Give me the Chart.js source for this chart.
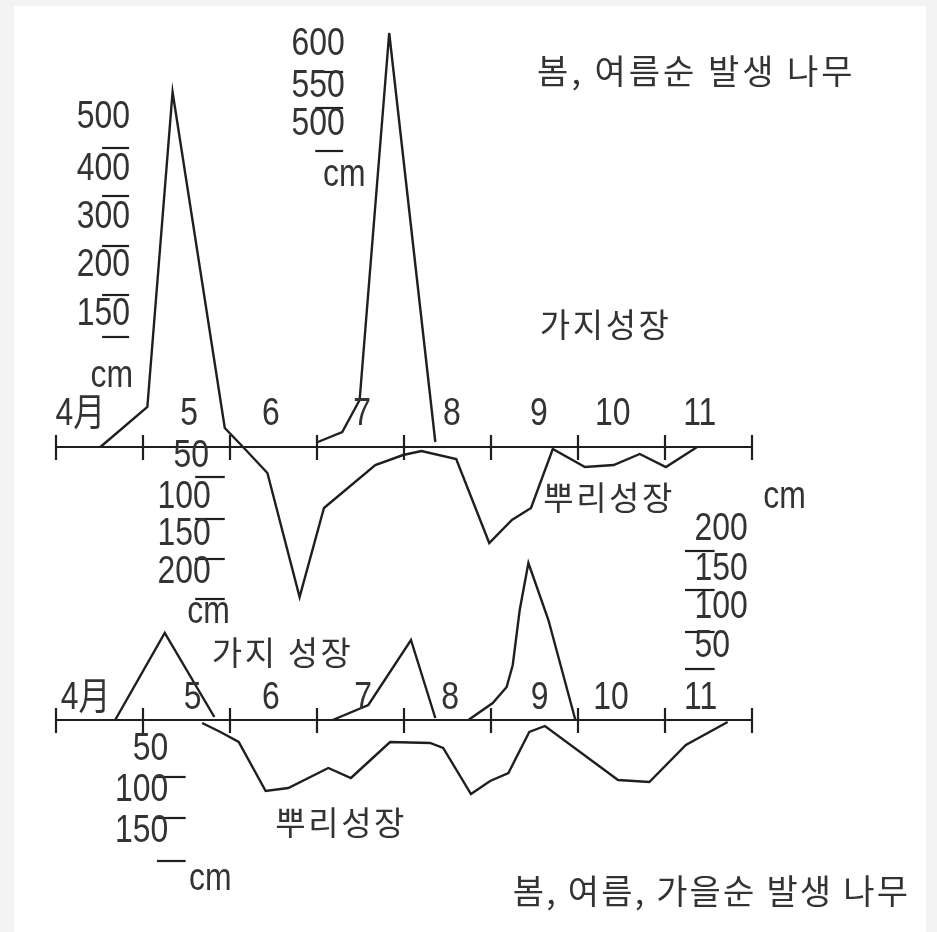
<!DOCTYPE html>
<html>
<head>
<meta charset="utf-8">
<script src="https://cdn.jsdelivr.net/npm/chart.js@4.4.1/dist/chart.umd.min.js"></script>
<style>
  html, body { margin: 0; padding: 0; background: #f3f3f3; }
  #wrap { width: 937px; height: 932px; }
</style>
</head>
<body>
<div id="wrap"><canvas id="growthCanvas" width="937" height="932"></canvas></div>
<script>
// months on the time axis (tick at the start of each month)
const monthTicks = [4, 5, 6, 7, 8, 9, 10, 11, 12];
const monthLabels = ['4月', '5', '6', '7', '8', '9', '10', '11'];

// 봄, 여름순 발생 나무 (relative growth, 0 = axis)
const topShootX1 = [4.51, 5.05, 5.34, 5.94, 6.15];
const topShootY1 = [0, 40, 355, 19, 0];
const topShootX2 = [7.01, 7.29, 7.49, 7.83, 8.36];
const topShootY2 = [5, 15, 47, 414, 5];
const topRootX = [6.15, 6.43, 6.80, 7.08, 7.67, 7.99, 8.20, 8.60, 8.98, 9.24, 9.46, 9.71, 10.08, 10.41, 10.71, 11.01, 11.37];
const topRootY = [0, -26, -150, -61, -18, -8, -4, -12, -96, -73, -61, -2, -20, -18, -7, -20, 0];

// 봄, 여름, 가을순 발생 나무
const botShootX1 = [4.68, 5.25, 5.82];
const botShootY1 = [0, 87, 3];
const botShootX2 = [7.18, 7.59, 8.08, 8.36];
const botShootY2 = [0, 15, 80, 2];
const botShootX3 = [8.74, 9.02, 9.18, 9.25, 9.33, 9.43, 9.66, 9.97];
const botShootY3 = [0, 17, 33, 55, 110, 157, 100, 0];
const botRootX = [5.68, 5.89, 6.10, 6.41, 6.67, 7.13, 7.39, 7.84, 8.30, 8.45, 8.77, 8.99, 9.20, 9.44, 9.62, 10.46, 10.82, 11.24, 11.72];
const botRootY = [-3, -12, -22, -71, -68, -48, -58, -22, -23, -28, -74, -61, -53, -12, -6, -60, -62, -25, -2];

function pts(xs, ys) {
  return xs.map((x, i) => ({ x, y: ys[i] }));
}

function lineSet(xs, ys, axis) {
  return {
    data: pts(xs, ys),
    yAxisID: axis,
    borderColor: '#1f1f1f',
    borderWidth: 2.4,
    pointRadius: 0,
    tension: 0,
    fill: false
  };
}

// numbers are set in a condensed face: regular face squeezed sideways
const NUM = { font: '38px "Liberation Sans", "Noto Sans CJK KR", sans-serif', squeeze: 0.84, spacing: '0px' };
const KO = { font: '33px "Noto Sans CJK KR", sans-serif', squeeze: 1, spacing: '2.6px' };
const TITLE = { font: '34px "Noto Sans CJK KR", sans-serif', squeeze: 1, spacing: '3px' };
const TITLE2 = { font: '34px "Noto Sans CJK KR", sans-serif', squeeze: 1, spacing: '2.2px' };

// label placement, in the chart's own units (month, relative growth)
const monthLabelPos = {
  yTop: { xs: [4.28, 5.53, 6.47, 7.52, 8.55, 9.55, 10.40, 11.40], y: 32 },
  yBot: { xs: [4.34, 5.57, 6.47, 7.53, 8.53, 9.56, 10.38, 11.41], y: 21 }
};

const notes = [
  // axis, text, x, y, align, style
  ['yTop', '500', 4.85, 329, 'right', NUM],
  ['yTop', '400', 4.85, 277, 'right', NUM],
  ['yTop', '300', 4.85, 229, 'right', NUM],
  ['yTop', '200', 4.85, 181, 'right', NUM],
  ['yTop', '150', 4.85, 132, 'right', NUM],
  ['yTop', 'cm', 4.885, 70, 'right', NUM],
  ['yTop', '600', 7.32, 402, 'right', NUM],
  ['yTop', '550', 7.32, 360, 'right', NUM],
  ['yTop', '500', 7.32, 322, 'right', NUM],
  ['yTop', 'cm', 7.07, 271, 'left', NUM],
  ['yTop', '봄, 여름순 발생 나무', 9.53, 376, 'left', TITLE],
  ['yTop', '가지성장', 9.56, 123, 'left', KO],
  ['yTop', '50', 5.76, -10, 'right', NUM],
  ['yTop', '100', 5.78, -51, 'right', NUM],
  ['yTop', '150', 5.78, -88, 'right', NUM],
  ['yTop', '200', 5.78, -126, 'right', NUM],
  ['yTop', 'cm', 5.51, -166, 'left', NUM],
  ['yTop', '뿌리성장', 9.60, -50, 'left', KO],
  ['yTop', 'cm', 12.13, -51, 'left', NUM],
  ['yBot', '200', 11.34, 190, 'left', NUM],
  ['yBot', '150', 11.34, 150, 'left', NUM],
  ['yBot', '100', 11.34, 112, 'left', NUM],
  ['yBot', '50', 11.34, 73, 'left', NUM],
  ['yBot', '가지 성장', 5.79, 68, 'left', KO],
  ['yBot', '50', 5.29, -30, 'right', NUM],
  ['yBot', '100', 5.29, -71, 'right', NUM],
  ['yBot', '150', 5.29, -112, 'right', NUM],
  ['yBot', 'cm', 5.53, -160, 'left', NUM],
  ['yBot', '뿌리성장', 6.52, -102, 'left', KO],
  ['yBot', '봄, 여름, 가을순 발생 나무', 9.25, -171, 'left', TITLE2]
];

// little scale bars next to the numbers: axis, x from, x to, y
const bars = [
  ['yTop', 4.53, 4.84, 299], ['yTop', 4.53, 4.84, 251], ['yTop', 4.53, 4.84, 201],
  ['yTop', 4.53, 4.84, 152], ['yTop', 4.53, 4.84, 110],
  ['yTop', 6.98, 7.30, 375], ['yTop', 6.98, 7.30, 339], ['yTop', 6.98, 7.30, 296],
  ['yTop', 5.60, 5.94, -30], ['yTop', 5.60, 5.94, -72], ['yTop', 5.60, 5.94, -112],
  ['yTop', 5.60, 5.94, -152],
  ['yBot', 11.23, 11.57, 169], ['yBot', 11.23, 11.57, 130], ['yBot', 11.23, 11.57, 88],
  ['yBot', 11.23, 11.57, 51],
  ['yBot', 5.16, 5.49, -57], ['yBot', 5.16, 5.49, -98], ['yBot', 5.16, 5.49, -141]
];

function drawText(ctx, text, px, py, align, style) {
  ctx.save();
  ctx.font = style.font;
  ctx.textAlign = align;
  ctx.textBaseline = 'middle';
  if ('letterSpacing' in ctx) ctx.letterSpacing = style.spacing;
  ctx.translate(px, py);
  ctx.scale(style.squeeze, 1);
  ctx.fillText(text, 0, 0);
  ctx.restore();
}

const paperPlugin = {
  id: 'paper',
  beforeDraw(chart) {
    const ctx = chart.ctx;
    ctx.save();
    ctx.fillStyle = '#f3f3f3';
    ctx.fillRect(0, 0, chart.width, chart.height);
    ctx.fillStyle = '#ffffff';
    ctx.fillRect(14, 6, 912, 926);
    ctx.restore();
  },
  afterDatasetsDraw(chart) {
    const ctx = chart.ctx;
    const x = chart.scales.x;
    ctx.save();
    ctx.strokeStyle = '#1f1f1f';
    ctx.fillStyle = '#333';
    ctx.lineWidth = 2.2;
    ['yTop', 'yBot'].forEach(id => {
      const y0 = chart.scales[id].getPixelForValue(0);
      ctx.beginPath();
      ctx.moveTo(x.getPixelForValue(monthTicks[0]), y0);
      ctx.lineTo(x.getPixelForValue(monthTicks[monthTicks.length - 1]), y0);
      monthTicks.forEach(m => {
        const px = x.getPixelForValue(m);
        ctx.moveTo(px, y0 - 12);
        ctx.lineTo(px, y0 + 13);
      });
      ctx.stroke();

      const pos = monthLabelPos[id];
      monthLabels.forEach((lab, i) => {
        drawText(ctx, lab, x.getPixelForValue(pos.xs[i]), chart.scales[id].getPixelForValue(pos.y), 'center', NUM);
      });
    });

    bars.forEach(([id, x1, x2, v]) => {
      const py = chart.scales[id].getPixelForValue(v);
      ctx.beginPath();
      ctx.moveTo(x.getPixelForValue(x1), py);
      ctx.lineTo(x.getPixelForValue(x2), py);
      ctx.stroke();
    });

    notes.forEach(([id, text, xv, yv, align, style]) => {
      drawText(ctx, text, x.getPixelForValue(xv), chart.scales[id].getPixelForValue(yv), align, style);
    });
    ctx.restore();
  }
};

const chartConfig = {
  type: 'line',
  data: {
    datasets: [
      lineSet(topShootX1, topShootY1, 'yTop'),
      lineSet(topShootX2, topShootY2, 'yTop'),
      lineSet(topRootX, topRootY, 'yTop'),
      lineSet(botShootX1, botShootY1, 'yBot'),
      lineSet(botShootX2, botShootY2, 'yBot'),
      lineSet(botShootX3, botShootY3, 'yBot'),
      lineSet(botRootX, botRootY, 'yBot')
    ]
  },
  options: {
    responsive: false,
    animation: false,
    layout: { padding: { left: 56, right: 185, top: 0, bottom: 0 } },
    plugins: { legend: { display: false }, tooltip: { enabled: false } },
    scales: {
      x: { type: 'linear', min: 4, max: 12, display: false },
      yTop: { type: 'linear', min: -485, max: 447, display: false },
      yBot: { type: 'linear', min: -212, max: 720, display: false }
    }
  },
  plugins: [paperPlugin]
};

new Chart(document.getElementById('growthCanvas'), chartConfig);
</script>
</body>
</html>
